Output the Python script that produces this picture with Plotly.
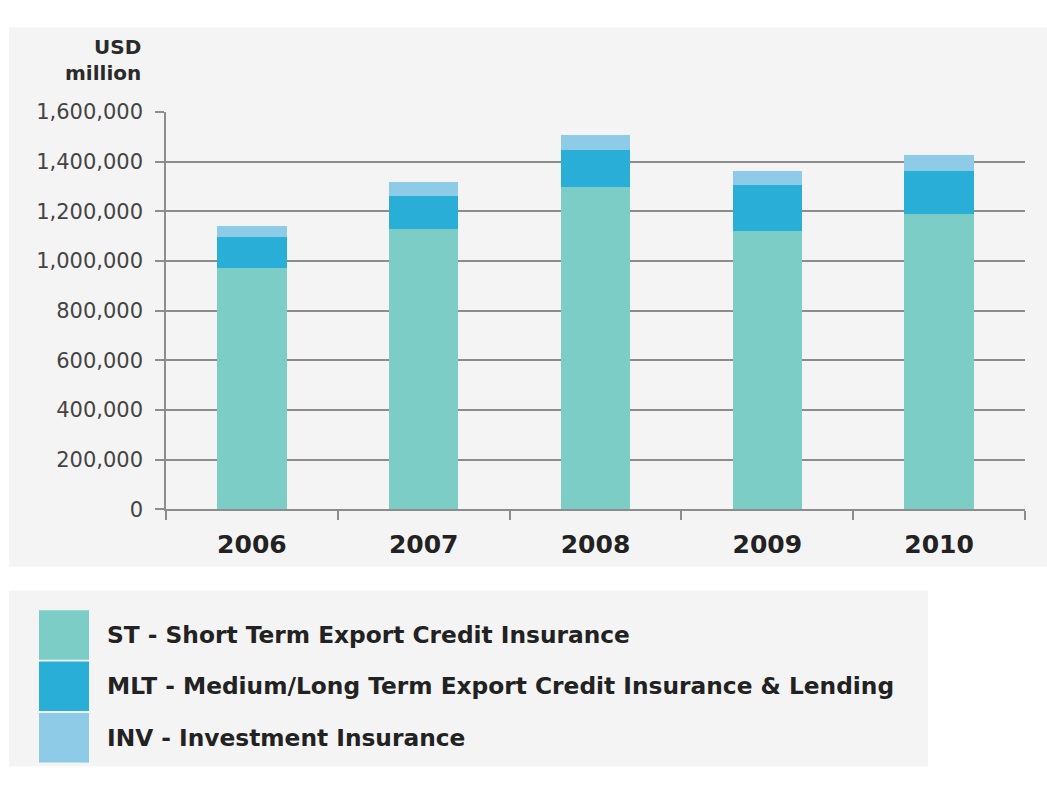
import plotly.graph_objects as go

# Export credit exposure by product type, USD million
years = ["2006", "2007", "2008", "2009", "2010"]
st_values = [970000, 1127000, 1297000, 1120000, 1189000]
mlt_values = [127000, 134000, 148000, 187000, 172000]
inv_values = [44000, 56000, 60000, 54000, 66000]

series_names = [
    "ST - Short Term Export Credit Insurance",
    "MLT - Medium/Long Term Export Credit Insurance & Lending",
    "INV - Investment Insurance",
]
series_colors = ["#7ccdc5", "#29afd7", "#8ecbe6"]

y_ticks = [0, 200000, 400000, 600000, 800000, 1000000, 1200000, 1400000, 1600000]
y_tick_text = ["0", "200,000", "400,000", "600,000", "800,000", "1,000,000",
               "1,200,000", "1,400,000", "1,600,000"]

W, H = 1047, 788
PANEL = "#f4f4f4"
GRID = "#8c8c8c"


def px_x(x):
    return x / W


def px_y(y):
    return 1 - y / H


fig = go.Figure()
for name, vals, col in zip(series_names, [st_values, mlt_values, inv_values], series_colors):
    fig.add_trace(go.Bar(x=years, y=vals, name=name, marker=dict(color=col, line=dict(width=0)),
                         showlegend=False))

shapes = [
    # chart panel
    dict(type="rect", xref="paper", yref="paper", x0=px_x(9), x1=px_x(1047), y0=px_y(572), y1=px_y(16),
         fillcolor=PANEL, line=dict(width=0), layer="below"),
    # legend panel
    dict(type="rect", xref="paper", yref="paper", x0=px_x(9), x1=px_x(928), y0=px_y(778), y1=px_y(597),
         fillcolor=PANEL, line=dict(width=0), layer="below"),
]

annotations = [
    dict(text="<b>USD<br>million</b>", xref="paper", yref="paper", x=px_x(143), y=px_y(22),
         xanchor="right", yanchor="top", align="right", showarrow=False,
         font=dict(family="DejaVu Sans", size=20, color="#2a2a2a")),
]

# legend rows drawn as swatches with labels
row_tops = [617, 670, 723]
for name, col, top in zip(series_names, series_colors, row_tops):
    shapes.append(dict(type="rect", xref="paper", yref="paper", x0=px_x(39), x1=px_x(89),
                       y0=px_y(top + 51), y1=px_y(top), fillcolor=col, line=dict(width=0)))
    annotations.append(dict(text=f"<b>{name}</b>", xref="paper", yref="paper", x=px_x(105),
                            y=px_y(top + 25), xanchor="left", yanchor="middle", showarrow=False,
                            font=dict(family="DejaVu Sans", size=23.3, color="#222222")))

fig.update_layout(
    width=W, height=H,
    margin=dict(l=0, r=0, t=0, b=0),
    paper_bgcolor="white",
    plot_bgcolor="rgba(0,0,0,0)",
    barmode="stack",
    bargap=0.595,
    shapes=shapes,
    annotations=annotations,
    xaxis=dict(
        domain=[px_x(166), px_x(1025)],
        type="category",
        showgrid=False,
        showline=True, linecolor=GRID, linewidth=1.5,
        ticks="outside", tickson="boundaries", ticklen=9, tickcolor=GRID, tickwidth=1.5,
        ticklabelstandoff=12,
        tickfont=dict(family="DejaVu Sans", size=25, color="#222222", weight="bold"),
    ),
    yaxis=dict(
        domain=[px_y(513), px_y(103)],
        range=[0, 1600000],
        tickvals=y_ticks, ticktext=y_tick_text,
        showgrid=True, gridcolor=GRID, gridwidth=1.5,
        zeroline=False,
        showline=True, linecolor=GRID, linewidth=1.5,
        ticks="outside", ticklen=9, tickcolor=GRID, tickwidth=1.5,
        ticklabelstandoff=8,
        tickfont=dict(family="DejaVu Sans", size=21, color="#444444"),
    ),
)

fig.write_html("out.html")
